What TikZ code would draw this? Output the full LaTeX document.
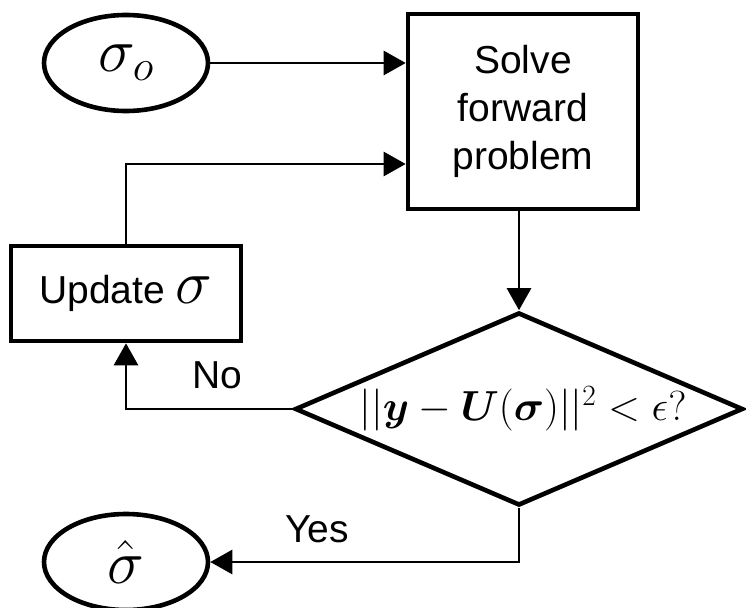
\RequirePackage{fix-cm}
\documentclass[tikz,border=0pt]{standalone}
\usepackage{amsmath,bm}
\usepackage[no-math]{fontspec}
\setmainfont{Liberation Sans}
\usetikzlibrary{shapes.geometric,arrows.meta}

\begin{document}
\begin{tikzpicture}
        [x=1pt, y=-1pt,
        box/.style={rectangle, draw, line width=4.6pt, minimum width=230pt, inner sep=0pt, align=center, font=\fontsize{39}{48}\selectfont},
        term/.style={ellipse, draw, line width=4.6pt, minimum width=164pt, minimum height=96pt, inner sep=0pt, font=\fontsize{62}{62}\selectfont},
        decision/.style={diamond, draw, line width=4.6pt, minimum width=448pt, minimum height=193pt, inner sep=0pt},
        edge/.style={line width=2.7pt, -{Triangle[length=22pt, width=24pt]}},
        lbl/.style={inner sep=0pt, font=\fontsize{39}{48}\selectfont}]

        \useasboundingbox (0,0) rectangle (746,607);

        \node[term] (start) at (126,63) {$\sigma_o$};
        \node[box, minimum height=195pt] (solve) at (523,111.5) {Solve\\forward\\problem};
        \node[box, minimum height=95pt] (update) at (126,293.5) {Update {\fontsize{62}{62}\selectfont$\sigma$}};
        \node[decision] (check) at (519,409) {};
        \node[inner sep=0pt, font=\fontsize{42}{42}\selectfont] (cond) at ([xshift=4pt]check.center) {$||\bm{y}-\bm{U}(\bm{\sigma})||^2<\epsilon?$};
        \node[term] (result) at (126,562) {$\hat{\sigma}$};

        \coordinate (back) at ([yshift=-52.5pt]solve.west);

        % flow
        \draw[edge] (start.east) -- (start.east -| solve.west);
        \draw[edge] (update.north) |- (back);
        \draw[edge] (solve.south -| check.north) -- (check.north);
        \draw[edge] (check.west) -| (update.south) node[lbl, pos=0.226, above=19pt] {No};
        \draw[edge] (check.south) |- (result.east) node[lbl, pos=0.827, above=18pt] {Yes};

    \end{tikzpicture}
\end{document}
